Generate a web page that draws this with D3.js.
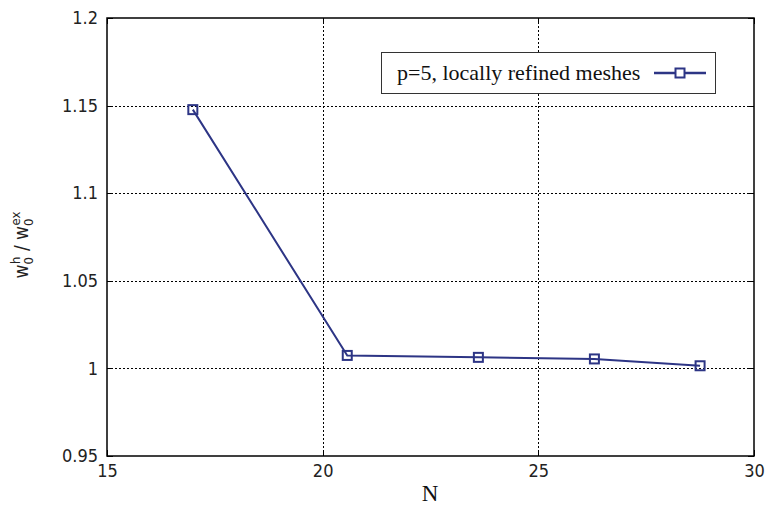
<!DOCTYPE html>
<html>
<head>
<meta charset="utf-8">
<style>
    body { margin: 0; background: white; }
    svg { display: block; }
    .tick text { font-family: 'DejaVu Sans', sans-serif; font-stretch: condensed; font-size: 18px; fill: #222; }
    .serif { font-family: 'Liberation Serif', serif; }
</style>
</head>
<body>
<svg width="766" height="506"></svg>
<script src="https://d3js.org/d3.v7.min.js"></script>
<script>
    // data
    let nValues = [16.99, 20.57, 23.61, 26.30, 28.75]
    let ratios = [1.1477, 1.0074, 1.0063, 1.0054, 1.0015]
    let xTicks = [15, 20, 25, 30]
    let yTicks = [0.95, 1, 1.05, 1.1, 1.15, 1.2]
    let seriesName = "p=5, locally refined meshes"

    let margin = { left: 107, right: 12, top: 18, bottom: 50 }
    let width = 766, height = 506
    let lineColor = "#2d3585"

    let svg = d3.select("svg")

    let x = d3.scaleLinear().domain([15, 30]).range([margin.left, width - margin.right])
    let y = d3.scaleLinear().domain([0.95, 1.2]).range([height - margin.bottom, margin.top])

    // grid
    let grid = svg.append("g")
        .attr("stroke", "#000")
        .attr("stroke-width", 1)
        .attr("stroke-dasharray", "2,2")
    grid.selectAll(".gx")
        .data(xTicks.slice(1, -1))
        .join("line")
        .attr("x1", d => Math.round(x(d)) + 0.5).attr("x2", d => Math.round(x(d)) + 0.5)
        .attr("y1", y(0.95)).attr("y2", y(1.2))
    grid.selectAll(".gy")
        .data(yTicks.slice(1, -1))
        .join("line")
        .attr("y1", d => Math.round(y(d)) + 0.5).attr("y2", d => Math.round(y(d)) + 0.5)
        .attr("x1", x(15)).attr("x2", x(30))

    // axes
    let xAxis = svg.append("g")
        .attr("transform", `translate(0,${y(0.95)})`)
        .call(d3.axisBottom(x).tickValues(xTicks).tickSize(0).tickPadding(8).tickFormat(d3.format("d")))
    xAxis.select(".domain").remove()

    let yAxis = svg.append("g")
        .attr("transform", `translate(${x(15)},0)`)
        .call(d3.axisLeft(y).tickValues(yTicks).tickSize(0).tickPadding(9).tickFormat(d => String(d)))
    yAxis.select(".domain").remove()

    // inner tick marks
    let ticks = svg.append("g").attr("stroke", "#000").attr("stroke-width", 1)
    ticks.selectAll(".tl")
        .data(yTicks)
        .join("line")
        .attr("x1", x(15)).attr("x2", x(15) + 6)
        .attr("y1", d => Math.round(y(d)) + 0.5).attr("y2", d => Math.round(y(d)) + 0.5)
    ticks.selectAll(".tr")
        .data(yTicks)
        .join("line")
        .attr("x1", x(30)).attr("x2", x(30) - 6)
        .attr("y1", d => Math.round(y(d)) + 0.5).attr("y2", d => Math.round(y(d)) + 0.5)
    ticks.selectAll(".tb")
        .data(xTicks)
        .join("line")
        .attr("x1", d => Math.round(x(d)) + 0.5).attr("x2", d => Math.round(x(d)) + 0.5)
        .attr("y1", y(0.95)).attr("y2", y(0.95) - 6)
    ticks.selectAll(".tt")
        .data(xTicks)
        .join("line")
        .attr("x1", d => Math.round(x(d)) + 0.5).attr("x2", d => Math.round(x(d)) + 0.5)
        .attr("y1", y(1.2)).attr("y2", y(1.2) + 6)

    // frame
    svg.append("rect")
        .attr("x", x(15)).attr("y", y(1.2))
        .attr("width", x(30) - x(15)).attr("height", y(0.95) - y(1.2))
        .attr("fill", "none").attr("stroke", "#000").attr("stroke-width", 1.5)

    // series
    let pts = nValues.map((n, i) => [n, ratios[i]])
    svg.append("path")
        .datum(pts)
        .attr("fill", "none")
        .attr("stroke", lineColor)
        .attr("stroke-width", 2)
        .attr("d", d3.line().x(d => x(d[0])).y(d => y(d[1])))
    svg.selectAll(".marker")
        .data(pts)
        .join("rect")
        .attr("x", d => x(d[0]) - 4.5).attr("y", d => y(d[1]) - 4.5)
        .attr("width", 9).attr("height", 9)
        .attr("fill", "none").attr("stroke", lineColor).attr("stroke-width", 2)

    // legend
    let legend = svg.append("g")
    legend.append("rect")
        .attr("x", 381.5).attr("y", 52.5).attr("width", 334).attr("height", 41)
        .attr("fill", "white").attr("stroke", "#333").attr("stroke-width", 1)
    legend.append("text")
        .attr("class", "serif")
        .attr("x", 397).attr("y", 80)
        .attr("font-size", 22)
        .attr("fill", "#111")
        .text(seriesName)
    legend.append("line")
        .attr("x1", 654).attr("x2", 706).attr("y1", 73).attr("y2", 73)
        .attr("stroke", lineColor).attr("stroke-width", 2.5)
    legend.append("rect")
        .attr("x", 675.5).attr("y", 68.5).attr("width", 9).attr("height", 9)
        .attr("fill", "white").attr("stroke", lineColor).attr("stroke-width", 2)

    // axis titles
    svg.append("text")
        .attr("class", "serif")
        .attr("x", 430).attr("y", 501)
        .attr("text-anchor", "middle")
        .attr("font-size", 23)
        .attr("fill", "#111")
        .text("N")

    let yl = svg.append("text")
        .attr("transform", "translate(28,245) rotate(-90)")
        .attr("text-anchor", "middle")
        .attr("font-family", "'DejaVu Sans', sans-serif")
        .attr("font-stretch", "condensed")
        .attr("font-size", 19)
        .attr("fill", "#222")
    yl.append("tspan").text("w")
    yl.append("tspan").attr("font-size", 13).attr("dy", 5).text("0")
    yl.append("tspan").attr("font-size", 13).attr("dy", -13).attr("dx", -7).text("h")
    yl.append("tspan").attr("dy", 8).text(" / w")
    yl.append("tspan").attr("font-size", 13).attr("dy", 5).text("0")
    yl.append("tspan").attr("font-size", 13).attr("dy", -13).attr("dx", -7).text("ex")
</script>
</body>
</html>
